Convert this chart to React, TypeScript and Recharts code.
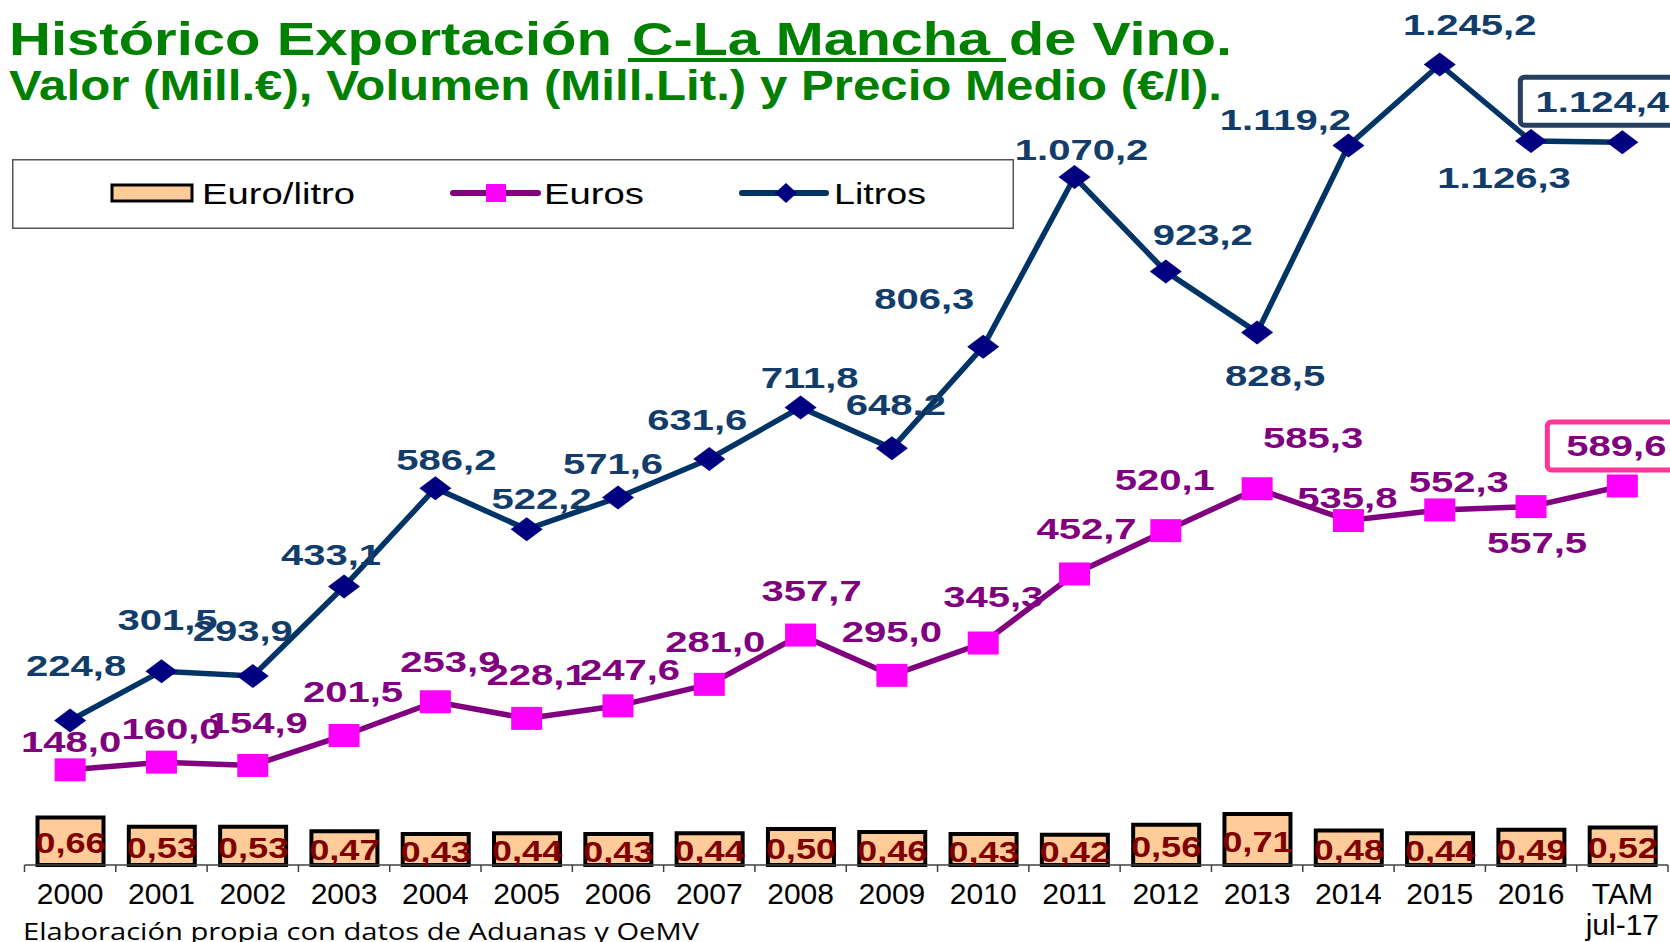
import React from "react";
import { Bar, ComposedChart, LabelList, Legend, Line, XAxis, YAxis } from "recharts";

// ---- data ----
const years = ["2000", "2001", "2002", "2003", "2004", "2005", "2006", "2007", "2008", "2009", "2010", "2011", "2012", "2013", "2014", "2015", "2016", "TAM jul-17"];
const euros = [148.0, 160.0, 154.9, 201.5, 253.9, 228.1, 247.6, 281.0, 357.7, 295.0, 345.3, 452.7, 520.1, 585.3, 535.8, 552.3, 557.5, 589.6];
const litros = [224.8, 301.5, 293.9, 433.1, 586.2, 522.2, 571.6, 631.6, 711.8, 648.2, 806.3, 1070.2, 923.2, 828.5, 1119.2, 1245.2, 1126.3, 1124.4];
const euroLitro = [0.66, 0.53, 0.53, 0.47, 0.43, 0.44, 0.43, 0.44, 0.5, 0.46, 0.43, 0.42, 0.56, 0.71, 0.48, 0.44, 0.49, 0.52];

// label nudges (label centre relative to point), hand placed in the original
const litrosLabelOffset = [
  [6, -55], [6, -52], [-10, -45], [-13, -32], [11, -29], [15, -31], [-5, -34], [-12, -39], [9, -30],
  [4, -44], [-59, -48], [7, -27], [37, -37], [18, 43], [-63, -26], [30, -40], [-27, 37], [-20, -41],
];
const eurosLabelOffset = [
  [1, -28], [10, -34], [5, -43], [9, -44], [15, -40], [10, -44], [12, -36], [6, -43], [11, -44],
  [0, -44], [10, -46], [12, -45], [-1, -51], [56, -51], [-1, -23], [19, -28], [6, 36], [-6, -40],
];

const data = years.map((year, i) => ({ year, euros: euros[i], litros: litros[i], ratio: euroLitro[i] }));

const W = 1670;
const H = 942;
const X_AXIS_H = 30;
const M = { top: 55, right: 2, bottom: 77 - X_AXIS_H, left: 24.5 };
const AXIS_Y = H - M.bottom - X_AXIS_H;
const BAND = (W - M.left - M.right) / years.length;
const LAST = years.length - 1;

const ARIAL = "'Liberation Sans', Arial, sans-serif";

function fmt1(v: number) {
  const [i, d] = v.toFixed(1).split(".");
  return i.replace(/\B(?=(\d{3})+(?!\d))/g, ".") + "," + d;
}
const fmt2 = (v: number) => v.toFixed(2).replace(".", ",");

function lineLabel(offsets: number[][], color: string, box: string, boxLeft: number) {
  return (props: any) => {
    const { x, y, index, value } = props;
    const [dx, dy] = offsets[index];
    const cx = x + dx;
    const cy = y + dy;
    return (
      <g key={`l-${index}`}>
        {index === LAST && (
          <rect x={cx - boxLeft} y={cy - 24} width={200} height={48} rx={4} fill="#fff" stroke={box} strokeWidth={5} />
        )}
        <text
          transform={`translate(${cx},${cy}) scale(1.38,1)`}
          textAnchor="middle"
          dominantBaseline="central"
          fill={color}
          fontFamily={ARIAL}
          fontWeight="bold"
          fontSize={29}
        >
          {fmt1(value)}
        </text>
      </g>
    );
  };
}

const barLabel = (props: any) => {
  const { x, y, width, height, value, index } = props;
  return (
    <text
      key={`b-${index}`}
      transform={`translate(${x + width / 2},${y + height / 2 + 2}) scale(1.25,1)`}
      textAnchor="middle"
      dominantBaseline="central"
      fill="#800000"
      fontFamily={ARIAL}
      fontWeight="bold"
      fontSize={29}
    >
      {fmt2(value)}
    </text>
  );
};

const squareDot = (p: any) => (
  <rect key={`s-${p.index}`} x={p.cx - 15.5} y={p.cy - 11.5} width={31} height={23} fill="#FF00FF" />
);
const diamondDot = (p: any) => (
  <polygon
    key={`d-${p.index}`}
    points={`${p.cx - 16},${p.cy} ${p.cx},${p.cy - 12} ${p.cx + 16},${p.cy} ${p.cx},${p.cy + 12}`}
    fill="#000080"
  />
);

function YearTick(props: any) {
  const { x, payload, index } = props;
  const parts = String(payload.value).split(" ");
  const left = x - BAND / 2;
  return (
    <g>
      <line x1={left} x2={left} y1={AXIS_Y} y2={AXIS_Y + 7} stroke="#404040" strokeWidth={1.5} />
      {index === LAST && (
        <line x1={x + BAND / 2} x2={x + BAND / 2} y1={AXIS_Y} y2={AXIS_Y + 7} stroke="#404040" strokeWidth={1.5} />
      )}
      {parts.map((t, i) => (
        <text
          key={t}
          x={x}
          y={AXIS_Y + 28 + i * 31}
          textAnchor="middle"
          dominantBaseline="central"
          fill="#000"
          fontFamily={ARIAL}
          fontSize={30}
        >
          {t}
        </text>
      ))}
    </g>
  );
}

function LegendBox() {
  const txt = { fontFamily: ARIAL, fontSize: 30, fill: "#000", dominantBaseline: "central" as const, lengthAdjust: "spacingAndGlyphs" as const };
  return (
    <svg width={1002} height={70} style={{ display: "block" }}>
      <rect x={0.75} y={0.75} width={1000.5} height={68.5} fill="#fff" stroke="#555" strokeWidth={1.5} />
      <rect x={100} y={26} width={80} height={16} fill="#FFCC99" stroke="#000" strokeWidth={3} />
      <text x={190} y={34} textLength={153} {...txt}>Euro/litro</text>
      <line x1={441} x2={526} y1={34} y2={34} stroke="#800080" strokeWidth={6} strokeLinecap="round" />
      <rect x={474} y={25} width={20} height={18} fill="#FF00FF" />
      <text x={532} y={34} textLength={100} {...txt}>Euros</text>
      <line x1={730} x2={814} y1={34} y2={34} stroke="#003366" strokeWidth={6} strokeLinecap="round" />
      <polygon points="763,34 774,24 785,34 774,44" fill="#000080" />
      <text x={822} y={34} textLength={92} {...txt}>Litros</text>
    </svg>
  );
}

export default function App() {
  return (
    <div style={{ position: "absolute", left: 0, top: 0, width: W, height: H, background: "#fff", overflow: "hidden" }}>
      <ComposedChart width={W} height={H} data={data} margin={M}>
        <XAxis
          dataKey="year"
          height={X_AXIS_H}
          interval={0}
          tickLine={false}
          axisLine={{ stroke: "#404040", strokeWidth: 1.5 }}
          tick={<YearTick />}
        />
        <YAxis yAxisId="ratio" hide domain={[0, 11.25]} />
        <YAxis yAxisId="val" hide domain={[0, 1260]} />
        <Legend
          layout="horizontal"
          verticalAlign="middle"
          align="center"
          content={() => <LegendBox />}
          wrapperStyle={{ position: "absolute", left: 12, top: 159, width: 1002, height: 70 }}
        />
        <Bar yAxisId="ratio" dataKey="ratio" barSize={66} fill="#FFCC99" stroke="#000" strokeWidth={4} isAnimationActive={false}>
          <LabelList dataKey="ratio" content={barLabel} />
        </Bar>
        <Line
          yAxisId="val"
          dataKey="euros"
          stroke="#800080"
          strokeWidth={5.5}
          dot={squareDot}
          activeDot={false}
          isAnimationActive={false}
        >
          <LabelList dataKey="euros" content={lineLabel(eurosLabelOffset, "#800080", "#FF3399", 69)} />
        </Line>
        <Line
          yAxisId="val"
          dataKey="litros"
          stroke="#003366"
          strokeWidth={5.5}
          dot={diamondDot}
          activeDot={false}
          isAnimationActive={false}
        >
          <LabelList dataKey="litros" content={lineLabel(litrosLabelOffset, "#123D6A", "#243F60", 82)} />
        </Line>
      </ComposedChart>

      <svg width={W} height={H} style={{ position: "absolute", left: 0, top: 0, pointerEvents: "none" }}>
        <g fill="#008000" fontFamily={ARIAL} fontWeight="bold">
          <text x={9} y={55} fontSize={47} textLength={603} lengthAdjust="spacingAndGlyphs">Histórico Exportación</text>
          <text x={632} y={55} fontSize={47} textLength={358} lengthAdjust="spacingAndGlyphs">C-La Mancha</text>
          <rect x={628} y={58} width={378} height={4} />
          <text x={1009} y={55} fontSize={47} textLength={223} lengthAdjust="spacingAndGlyphs">de Vino.</text>
          <text x={9} y={100} fontSize={42} textLength={1213} lengthAdjust="spacingAndGlyphs">
            Valor (Mill.€), Volumen (Mill.Lit.) y Precio Medio (€/l).
          </text>
        </g>
        <text x={23} y={940} fontFamily="'Open Sans', sans-serif" fontSize={24} fill="#000" textLength={676} lengthAdjust="spacingAndGlyphs">
          Elaboración propia con datos de Aduanas y OeMV
        </text>
      </svg>
    </div>
  );
}
